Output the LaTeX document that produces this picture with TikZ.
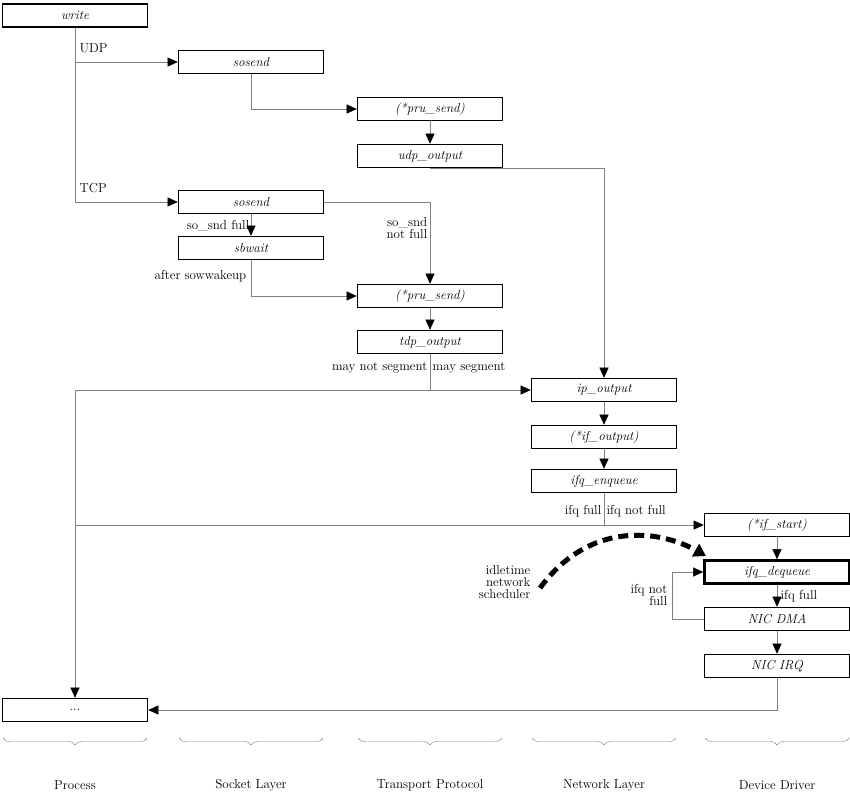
\documentclass[tikz,border=0pt]{standalone}
\usepackage{tikz}
\usetikzlibrary{arrows.meta,positioning,calc,decorations.pathreplacing}
\begin{document}
\begin{tikzpicture}[x=1pt, y=-1pt,
        font=\fontsize{13}{15}\selectfont,
        box/.style={draw, line width=1.6pt, minimum width=145pt, minimum height=23pt, inner sep=0pt, font=\fontsize{13}{15}\selectfont\itshape},
        link/.style={draw=black!50, thin},
        arr/.style={link, -{Triangle[width=9pt, length=10pt, color=black]}},
        lab/.style={inner sep=1.5pt, align=right}]
        \useasboundingbox (0,0) rectangle (850,798);
        % call boxes
        \node[box] (write) at (75,15.5) {write};
        \node[box] (sosendU) at (251,62) {sosend};
        \node[box] (pruU) at (430,109) {(*pru\_send)};
        \node[box] (udp) at (430,156) {udp\_output};
        \node[box] (sosendT) at (251,202) {sosend};
        \node[box] (sbwait) at (251,248) {sbwait};
        \node[box] (pruT) at (430,296) {(*pru\_send)};
        \node[box] (tdp) at (430,342) {tdp\_output};
        \node[box] (ip) at (604,390) {ip\_output};
        \node[box] (ifout) at (604,437) {(*if\_output)};
        \node[box] (enq) at (604,481) {ifq\_enqueue};
        \node[box] (ifstart) at (777,525) {(*if\_start)};
        \node[box, line width=2.6pt] (deq) at (777,572) {ifq\_dequeue};
        \node[box] (dma) at (777,619) {NIC DMA};
        \node[box] (irq) at (777,666) {NIC IRQ};
        \node[box, font=\fontsize{13}{15}\selectfont] (dots) at (75,710) {...};
        % connectors
        \draw[arr] (write.south) |- (sosendU.west);
        \draw[arr] (write.south) |- (sosendT.west);
        \node[lab, anchor=west] at (78,48) {UDP};
        \node[lab, anchor=west] at (78,188) {TCP};
        \draw[arr] (sosendU.south) |- (pruU.west);
        \draw[arr] (pruU) -- (udp);
        \draw[arr] (udp.south) |- ($(ip.north)+(0,-210)$) -- (ip.north);
        \draw[arr] (sosendT.east) -| (pruT.north);
        \node[lab, anchor=east] at (429,228) {so\_snd\\[-3pt]not full};
        \draw[arr] (sosendT) -- (sbwait);
        \node[lab, anchor=east] at (251,226) {so\_snd full};
        \draw[arr] (sbwait.south) |- (pruT.west);
        \node[lab, anchor=east] at (248,276) {after sowwakeup};
        \draw[arr] (pruT) -- (tdp);
        \coordinate (seg) at (430,390);
        \draw[link] (tdp.south) -- (seg);
        \draw[arr] (seg) -- (ip.west);
        \draw[arr] (seg) -| (dots.north);
        \node[lab, anchor=east] at (429,368) {may not segment};
        \node[lab, anchor=west] at (431,368) {may segment};
        \draw[arr] (ip) -- (ifout);
        \draw[arr] (ifout) -- (enq);
        \coordinate (full) at (604,525);
        \draw[link] (enq.south) -- (full);
        \draw[arr] (full) -- (ifstart.west);
        \draw[link] (full) -- (75,525);
        \node[lab, anchor=east] at (603,511) {ifq full};
        \node[lab, anchor=west] at (605,511) {ifq not full};
        \draw[arr] (ifstart) -- (deq);
        \draw[arr] (deq) -- (dma);
        \node[lab, anchor=west] at (779,596) {ifq full};
        \draw[arr] (dma.west) -- ++(-32,0) |- (deq.west);
        \node[lab, anchor=east] at (669,595) {ifq not\\[-3pt]full};
        \draw[arr] (dma) -- (irq);
        \draw[arr] (irq.south) |- (dots.east);
        % idle-time scheduler
        \draw[line width=5pt, dash pattern=on 10pt off 6pt, -{Triangle[width=14pt, length=12pt]}]
          (540,588) .. controls (590,520) and (660,530) .. (706,556);
        \node[lab, anchor=east] at (532,582) {idletime\\[-3pt]network\\[-3pt]scheduler};
        % layers
        \foreach \x/\name in {75/Process, 251/Socket Layer, 430/Transport Protocol, 604/Network Layer, 777/Device Driver} {
          \draw[black!50, decorate, decoration={brace, mirror, amplitude=7pt}] (\x-72,738) -- (\x+72,738);
          \node at (\x,785) {\name};
        };
\end{tikzpicture}
\end{document}
